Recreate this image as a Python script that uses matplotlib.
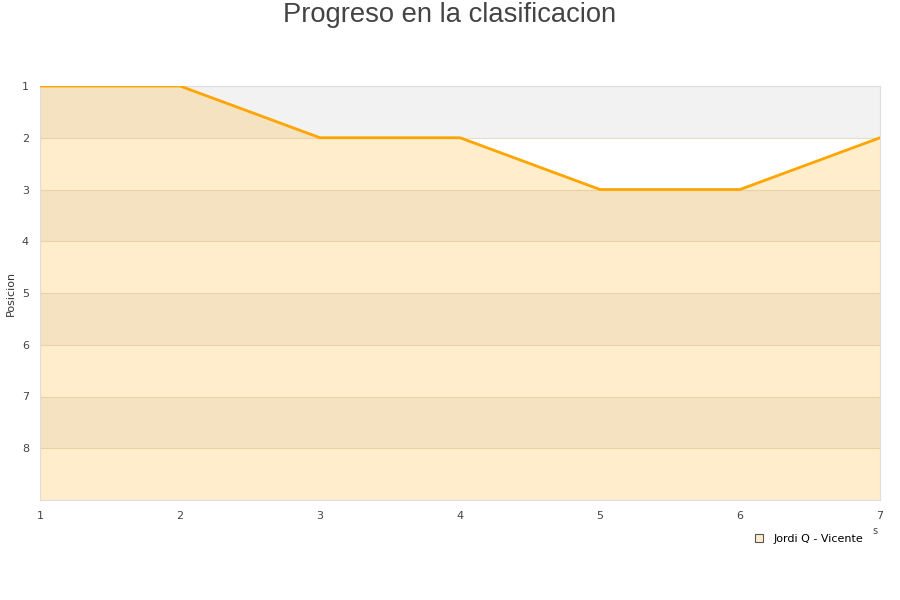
import matplotlib
matplotlib.use('Agg')
import matplotlib.pyplot as plt
from matplotlib.lines import Line2D

jornadas = [1, 2, 3, 4, 5, 6, 7]
posicion = [1, 1, 2, 2, 3, 3, 2]
y_ticks = [1, 2, 3, 4, 5, 6, 7, 8]
serie = 'Jordi Q - Vicente'

fig = plt.figure(figsize=(9, 6), dpi=100)
ax = fig.add_axes([40/900, 100/600, 840/900, 414/600])

# alternating bands
for y0 in range(1, 9, 2):
    ax.axhspan(y0, y0 + 1, color='#f2f2f2', lw=0, zorder=0)
for y in y_ticks:
    ax.axhline(y, color='#e6dccb', lw=0.8, zorder=1)

ax.fill_between(jornadas, posicion, 9, color='#ffa500', alpha=0.2, lw=0, zorder=2)
ax.plot(jornadas, posicion, color='#ffa500', lw=2, zorder=3)

ax.set_xlim(1, 7)
ax.set_ylim(9, 1)
ax.set_xticks(jornadas)
ax.set_yticks(y_ticks)
ax.tick_params(length=0, labelsize=8, colors='#444444', pad=8)
for s in ax.spines.values():
    s.set_color('#dddddd')
ax.set_ylabel('Posicion', fontsize=8, color='#333333')
ax.yaxis.set_label_coords(-24/840, 0.5)

fig.text(0.5, 1 - 15/600, 'Progreso en la clasificacion', ha='center', va='center',
         fontsize=19.7, color='#444444', family='Liberation Sans')
fig.text(875/900, 1 - 531/600, 's', fontsize=7, color='#444444', ha='center', va='center')

handle = Line2D([], [], marker='s', ls='none', markersize=6,
                markerfacecolor='#ffedcc', markeredgecolor='#555555', markeredgewidth=0.8)
fig.legend([handle], [serie], loc='center', bbox_to_anchor=(806/900, 1 - 539/600),
           frameon=False, fontsize=8, handletextpad=0.3, borderpad=0)

fig.savefig('out.png', dpi=100)
